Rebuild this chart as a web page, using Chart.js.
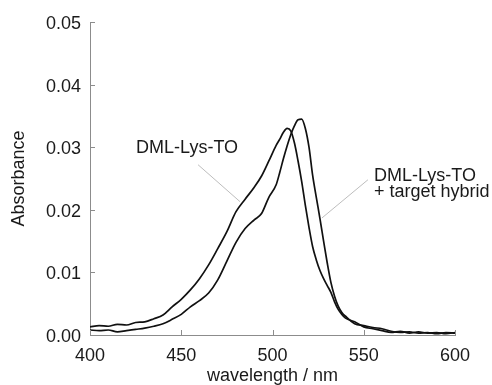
<!DOCTYPE html>
<html>
<head>
<meta charset="utf-8">
<script src="https://cdn.jsdelivr.net/npm/chart.js@4/dist/chart.umd.min.js"></script>
<style>
  html, body { margin: 0; padding: 0; background: #fff; }
  #wrap { width: 492px; height: 385px; }
</style>
</head>
<body>
<div id="wrap"><canvas id="myChart" width="492" height="385"></canvas></div>
<script>
'use strict';
// wavelength in nm
let wavelengths = [400, 405, 410, 415, 420, 425, 430, 435, 440, 445, 450, 455, 460, 465, 470, 475, 480, 485, 490,
  494, 498, 502, 504, 506, 508, 510, 512, 514, 516, 518, 520, 522, 524, 526, 528, 530, 532, 534, 536, 538, 540,
  545, 550, 555, 560, 565, 570, 575, 580, 585, 590, 595, 600];

// DML-Lys-TO alone
let freeProbe = [0.0013, 0.0015, 0.0014, 0.0017, 0.0016, 0.0020, 0.0021, 0.0026, 0.0032, 0.0045, 0.0057, 0.0072, 0.0090, 0.0112, 0.0138, 0.0165, 0.0197, 0.0217, 0.0236,
  0.0254, 0.0278, 0.0303, 0.0313, 0.0324, 0.0330, 0.0326, 0.0307, 0.0278, 0.0245, 0.0207, 0.0172, 0.0141, 0.0120, 0.0103, 0.0090, 0.0079, 0.0068, 0.0053, 0.0041, 0.0033, 0.0027,
  0.0021, 0.0013, 0.0010, 0.0007, 0.0004, 0.0006, 0.0003, 0.0005, 0.0003, 0.0004, 0.0002, 0.0004];

// DML-Lys-TO + target hybrid
let hybrid = [0.0008, 0.0007, 0.0008, 0.0005, 0.0007, 0.0009, 0.0011, 0.0014, 0.0018, 0.0025, 0.0033, 0.0045, 0.0055, 0.0067, 0.0088, 0.0118, 0.0148, 0.0170, 0.0184,
  0.0194, 0.0220, 0.0240, 0.0260, 0.0282, 0.0302, 0.0320, 0.0334, 0.0344, 0.0345, 0.0330, 0.0300, 0.0255, 0.0220, 0.0186, 0.0150, 0.0115, 0.0084, 0.0062, 0.0046, 0.0036, 0.0030,
  0.0018, 0.0015, 0.0012, 0.0010, 0.0006, 0.0004, 0.0005, 0.0003, 0.0004, 0.0002, 0.0004, 0.0003];

let xTicks = [400, 450, 500, 550, 600];
let yTicks = [0, 0.01, 0.02, 0.03, 0.04, 0.05];

let fontFam = '"Liberation Sans", Arial, sans-serif';
let axisGray = '#8c8c8c';

function toPoints(vals) {
  return wavelengths.map((w, i) => ({ x: w, y: vals[i] }));
}

// short ticks pointing into the plot
let innerTicks = {
  id: 'innerTicks',
  afterDraw(chart) {
    let ctx = chart.ctx;
    let xs = chart.scales.x;
    let ys = chart.scales.y;
    ctx.save();
    ctx.strokeStyle = axisGray;
    ctx.lineWidth = 1;
    ctx.beginPath();
    for (let v of yTicks) {
      let py = Math.round(ys.getPixelForValue(v)) + 0.5;
      ctx.moveTo(xs.left, py);
      ctx.lineTo(xs.left + 5, py);
    }
    for (let v of xTicks) {
      let px = Math.round(xs.getPixelForValue(v)) + 0.5;
      ctx.moveTo(px, ys.bottom);
      ctx.lineTo(px, ys.bottom - 5);
    }
    ctx.stroke();
    ctx.restore();
  }
};

// curve labels with leader lines (anchored in data units)
let curveLabels = {
  id: 'curveLabels',
  afterDatasetsDraw(chart) {
    let ctx = chart.ctx;
    let xs = chart.scales.x;
    let ys = chart.scales.y;
    let P = (x, y) => [xs.getPixelForValue(x), ys.getPixelForValue(y)];
    ctx.save();
    ctx.strokeStyle = '#bdbdbd';
    ctx.lineWidth = 1;
    let lines = [
      [[459.2, 0.0272], [482.2, 0.0213]],
      [[552.3, 0.0248], [527.1, 0.0187]]
    ];
    for (let l of lines) {
      let a = P(l[0][0], l[0][1]);
      let b = P(l[1][0], l[1][1]);
      ctx.beginPath();
      ctx.moveTo(a[0], a[1]);
      ctx.lineTo(b[0], b[1]);
      ctx.stroke();
    }
    ctx.fillStyle = '#1a1a1a';
    ctx.font = '18px ' + fontFam;
    ctx.textBaseline = 'middle';
    ctx.textAlign = 'center';
    let t1 = P(453.2, 0.0299);
    ctx.fillText('DML-Lys-TO', t1[0], t1[1]);
    ctx.textAlign = 'left';
    let t2 = P(555.6, 0.0254);
    ctx.fillText('DML-Lys-TO', t2[0], t2[1]);
    let t3 = P(555.6, 0.0228);
    ctx.fillText('+ target hybrid', t3[0], t3[1]);
    ctx.restore();
  }
};

let ctx = document.getElementById('myChart').getContext('2d');
let myChart = new Chart(ctx, {
  type: 'line',
  data: {
    datasets: [{
      label: 'DML-Lys-TO',
      data: toPoints(freeProbe),
      borderColor: '#111',
      borderWidth: 1.7,
      pointRadius: 0,
      cubicInterpolationMode: 'monotone',
      fill: false
    },
    {
      label: 'DML-Lys-TO + target hybrid',
      data: toPoints(hybrid),
      borderColor: '#111',
      borderWidth: 1.7,
      pointRadius: 0,
      cubicInterpolationMode: 'monotone',
      fill: false
    }]
  },
  options: {
    responsive: false,
    animation: false,
    layout: { padding: { top: 22, right: 37, left: 0, bottom: 0 } },
    plugins: {
      legend: { display: false },
      tooltip: { enabled: false }
    },
    scales: {
      x: {
        type: 'linear',
        min: 400,
        max: 600,
        afterFit(scale) { scale.height = 50; },
        afterBuildTicks(scale) { scale.ticks = xTicks.map(v => ({ value: v })); },
        grid: { display: false },
        border: { display: true, color: axisGray, width: 1 },
        ticks: {
          color: '#1a1a1a',
          font: { family: fontFam, size: 18 },
          padding: 2,
          maxRotation: 0
        },
        title: {
          display: true,
          text: 'wavelength / nm',
          color: '#1a1a1a',
          font: { family: fontFam, size: 18 },
          padding: { top: 0, bottom: -2 }
        }
      },
      y: {
        min: 0,
        max: 0.05,
        afterFit(scale) { scale.width = 90; },
        afterBuildTicks(scale) { scale.ticks = yTicks.map(v => ({ value: v })); },
        grid: { display: false },
        border: { display: true, color: axisGray, width: 1 },
        ticks: {
          color: '#1a1a1a',
          font: { family: fontFam, size: 18 },
          padding: 1,
          labelOffset: 2,
          callback: v => v.toFixed(2)
        },
        title: {
          display: true,
          text: 'Absorbance',
          color: '#1a1a1a',
          font: { family: fontFam, size: 18 },
          padding: { top: 8, bottom: 0 }
        }
      }
    }
  },
  plugins: [innerTicks, curveLabels]
});
</script>
</body>
</html>
